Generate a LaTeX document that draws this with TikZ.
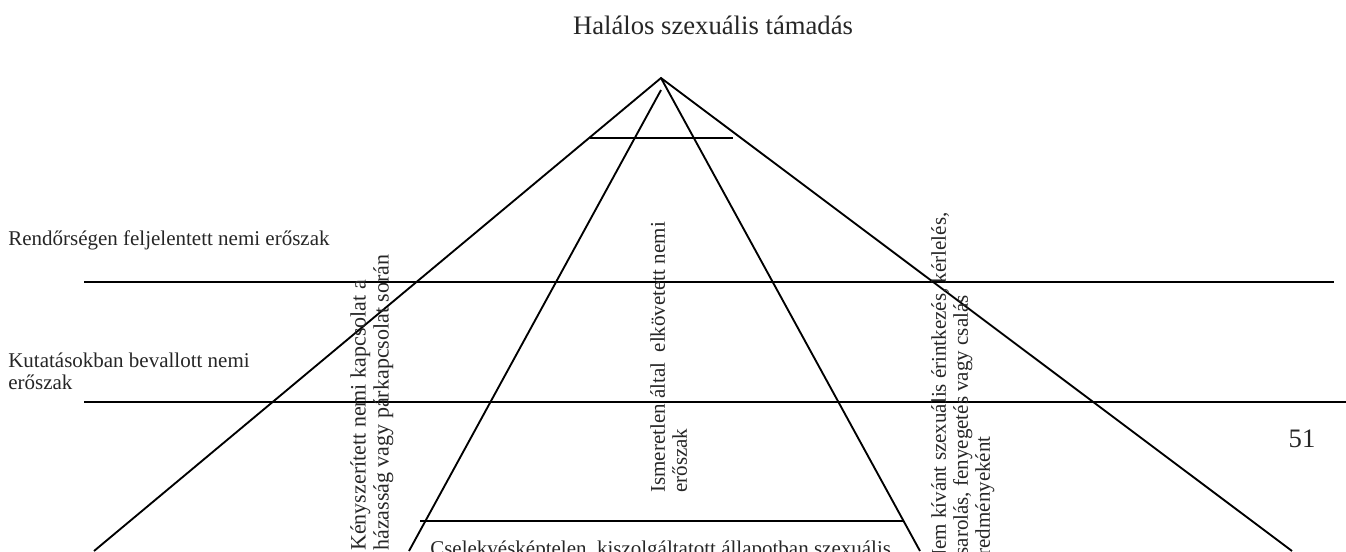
\documentclass[tikz,border=0pt]{standalone}
\usepackage{fontspec}
\setmainfont{Liberation Serif}
\begin{document}
\begin{tikzpicture}[x=0.75pt,y=-0.75pt,
  edge/.style={line width=1.4pt, black},
  lbl/.style={inner sep=0pt, text=black!85, font=\fontsize{15.75}{16.5}\selectfont},
  lblb/.style={inner sep=0pt, text=black!85, font=\fontsize{16.5}{17.25}\selectfont},
  big/.style={inner sep=0pt, text=black!85, font=\fontsize{20}{24}\selectfont}]
\useasboundingbox (0,0) rectangle (1346,551);
\clip (0,0) rectangle (1346,551);
% pyramid
\coordinate (apex) at (661,78);
\coordinate (itop) at (661,90);
\coordinate (olb) at (94,551);
\coordinate (orb) at (1292,551);
\coordinate (ilb) at (409,551);
\coordinate (irb) at (920,551);
\draw[edge] (olb) -- (apex) -- (orb);
\draw[edge] (itop) -- (ilb);
\draw[edge] (apex) -- (irb);
% horizontal lines
\coordinate (t1) at (590,138); \coordinate (t2) at (733,138);
\coordinate (h1a) at (84,282); \coordinate (h1b) at (1334,282);
\coordinate (h2a) at (84,402); \coordinate (h2b) at (1346,402);
\coordinate (b1) at (420,521); \coordinate (b2) at (903,521);
\draw[edge] (t1) -- (t2);
\draw[edge] (h1a) -- (h1b);
\draw[edge] (h2a) -- (h2b);
\draw[edge] (b1) -- (b2);
% texts
\node[big, anchor=base] (title) at (713,34) {Halálos szexuális támadás};
\node[big, anchor=base] (pagenum) at (1302,447) {51};
\node[lbl, anchor=base west] (police) at (8,245) {Rendőrségen feljelentett nemi erőszak};
\node[lbl, anchor=north west, align=left] (survey) at (8,353) {Kutatásokban bevallott nemi\\erőszak};
\node[lblb, rotate=90, anchor=north west, align=left] (forced) at (350,551) {Kényszerített nemi kapcsolat a\\házasság vagy párkapcsolat során};
\node[lbl, rotate=90, anchor=north west, align=left] (stranger) at (650,493) {Ismeretlen által\ \ elkövetett nemi\\erőszak};
\node[lbl, rotate=90, anchor=north west, align=left] (unwanted) at (931,565) {Nem kívánt szexuális érintkezés, kérlelés,\\zsarolás, fenyegetés vagy csalás\\eredményeként};
\node[lbl, anchor=base west] (incap) at (430,555) {Cselekvésképtelen, kiszolgáltatott állapotban szexuális};
\end{tikzpicture}
\end{document}
